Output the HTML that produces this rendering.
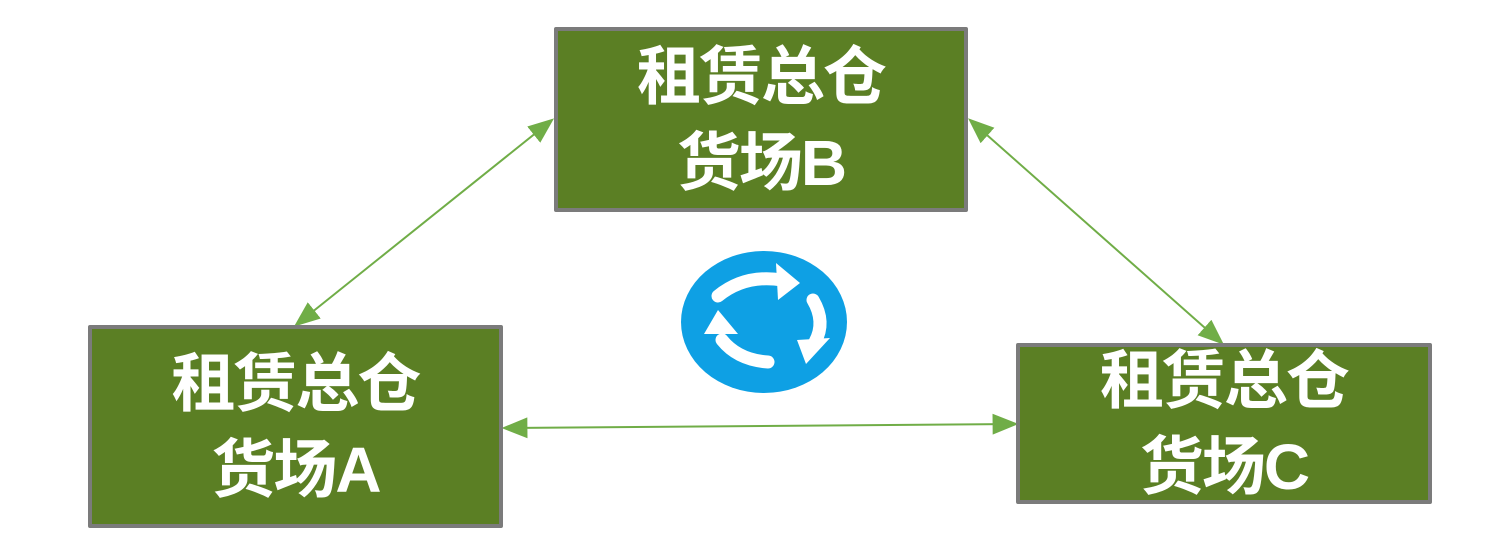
<!DOCTYPE html>
<html><head><meta charset="utf-8"><style>
body{margin:0;width:1510px;height:553px;background:#fff;position:relative;overflow:hidden;font-family:"Liberation Sans","Noto Sans CJK SC",sans-serif}
.b{position:absolute;background:#5b7f24;border:4px solid #7b7b7b;box-sizing:border-box;color:#fff;font-weight:bold;font-size:64px;line-height:86px;text-align:center;display:flex;flex-direction:column;justify-content:center;border-radius:2px;letter-spacing:-2px}
</style></head><body>
<svg width="1510" height="553" style="position:absolute;left:0;top:0">
<defs>
<marker id="a" viewBox="0 0 10 10" refX="9" refY="5" markerWidth="26" markerHeight="26" markerUnits="userSpaceOnUse" orient="auto-start-reverse"><path d="M0,1 L10,5 L0,9z" fill="#70ad47"/></marker></defs>
<g stroke="#70ad47" stroke-width="2" fill="none">
<line x1="296" y1="325" x2="552" y2="120" marker-start="url(#a)" marker-end="url(#a)"/>
<line x1="970" y1="120" x2="1222" y2="343" marker-start="url(#a)" marker-end="url(#a)"/>
<line x1="504" y1="428" x2="1016" y2="424" marker-start="url(#a)" marker-end="url(#a)"/>
</g>
<ellipse cx="764" cy="322" rx="83" ry="71" fill="#0ea0e4"/>
<g stroke="#fff" stroke-width="13" fill="none" stroke-linecap="round">
<path d="M718,296 Q745,274 782,280"/>
<path d="M813,300 Q826,322 815,342"/>
<path d="M768,362 Q738,360 722,340"/>
</g>
<g fill="#fff">
<path d="M776,263 L800,283 L778,300z"/>
<path d="M797,340 L830,338 L806,364z"/>
<path d="M704,334 L718,310 L738,334z"/>
</g>
</svg>
<div class="b" style="left:554px;top:27px;width:414px;height:185px">租赁总仓<br>货场B</div>
<div class="b" style="left:88px;top:325px;width:415px;height:203px">租赁总仓<br>货场A</div>
<div class="b" style="left:1016px;top:343px;width:416px;height:161px">租赁总仓<br>货场C</div>
</body></html>
